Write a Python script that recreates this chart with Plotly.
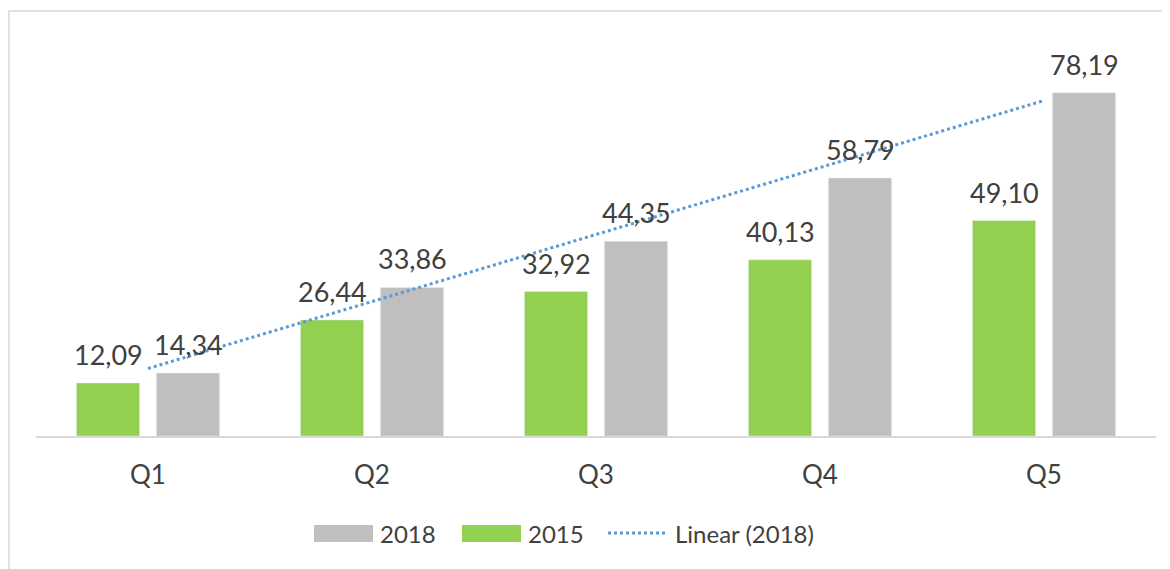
import numpy as np
import plotly.graph_objects as go

categories = ["Q1", "Q2", "Q3", "Q4", "Q5"]
values_2015 = [12.09, 26.44, 32.92, 40.13, 49.10]
values_2018 = [14.34, 33.86, 44.35, 58.79, 78.19]
series_names = ["2018", "2015", "Linear (2018)"]

GREEN = "#92D050"
GREY = "#BFBFBF"
BLUE = "#5B9BD5"
TEXT = "#404040"
FONT = "Lato, 'Open Sans', sans-serif"

# linear trendline of 2018 series
xi = np.arange(1, len(values_2018) + 1)
slope, intercept = np.polyfit(xi, values_2018, 1)
trend = list(slope * xi + intercept)

fig = go.Figure()
fig.add_trace(go.Bar(
    x=categories, y=values_2015, name=series_names[1],
    marker=dict(color=GREEN), showlegend=False,
))
fig.add_trace(go.Bar(
    x=categories, y=values_2018, name=series_names[0],
    marker=dict(color=GREY), showlegend=False,
))
fig.add_trace(go.Scatter(
    x=categories, y=trend, mode="lines", name=series_names[2],
    line=dict(color=BLUE, width=3, dash="dot"), showlegend=False,
))

# page has an 8px body margin; layout numbers below are page pixels
OFF = 8
L = 36 - OFF; W = 1120; T = 41 - OFF; H = 395; BASE = 436 - OFF
def px(x):
    return (x - OFF - L) / W
def py(y):
    return (BASE - (y - OFF)) / H

def fmt(v):
    return f"{v:.2f}".replace(".", ",")

annotations = []
SLOT = 40  # half of a group's bar slot in px
for vals, xs in ((values_2015, -SLOT), (values_2018, SLOT)):
    for c, v in zip(categories, vals):
        annotations.append(dict(
            x=c, y=v, xref="x", yref="y", text=fmt(v), showarrow=False,
            xanchor="center", yanchor="bottom", xshift=xs, yshift=10,
            font=dict(size=27, color=TEXT, family=FONT)))

shapes = [
    dict(type="rect", xref="paper", yref="paper", x0=px(9), x1=px(1185),
         y0=py(585), y1=py(11), line=dict(color="#D9D9D9", width=1.5),
         fillcolor="rgba(0,0,0,0)", layer="below"),
    dict(type="rect", xref="paper", yref="paper", x0=px(314), x1=px(373),
         y0=py(542), y1=py(525), line=dict(width=0), fillcolor=GREY),
    dict(type="rect", xref="paper", yref="paper", x0=px(462), x1=px(521),
         y0=py(542), y1=py(525), line=dict(width=0), fillcolor=GREEN),
    dict(type="line", xref="paper", yref="paper", x0=px(608), x1=px(668),
         y0=py(533), y1=py(533), line=dict(color=BLUE, width=3, dash="dot")),
]
for name, x0 in zip(series_names, (378, 526, 673)):
    annotations.append(dict(
        xref="paper", yref="paper", x=px(x0), y=py(533), text=name,
        showarrow=False, xanchor="left", yanchor="middle",
        font=dict(size=24, color=TEXT, family=FONT)))

fig.update_layout(
    width=1170, height=569,
    margin=dict(l=L, r=1170 - L - W, t=T, b=569 - BASE),
    paper_bgcolor="white", plot_bgcolor="white",
    barmode="group", bargap=0.286, bargroupgap=0.21,
    separators=", ",
    font=dict(family=FONT, color=TEXT),
    xaxis=dict(showline=True, linecolor="#D9D9D9", linewidth=1.5,
               ticks="", tickfont=dict(size=26, color=TEXT, family=FONT),
               ticklabelstandoff=15, showgrid=False),
    yaxis=dict(range=[0, 90], visible=False, showgrid=False),
    shapes=shapes, annotations=annotations,
    showlegend=False,
)

fig.write_html("out.html")
